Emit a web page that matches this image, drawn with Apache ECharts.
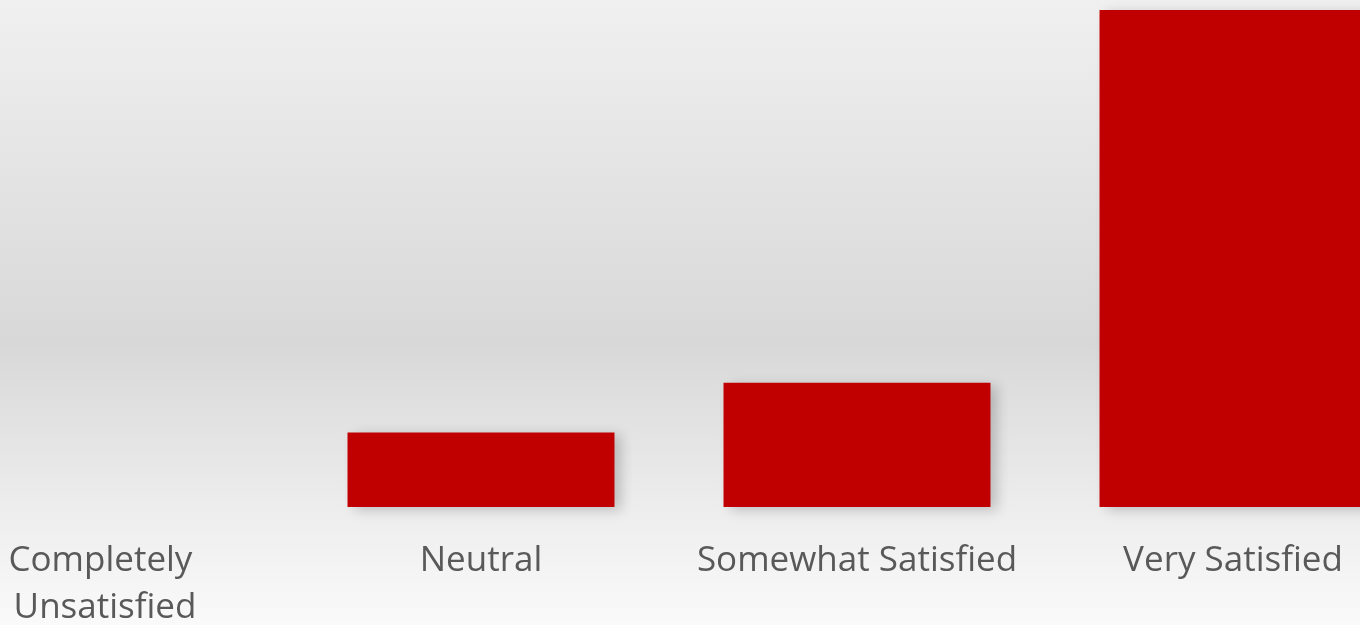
<!DOCTYPE html>
<html>
<head>
<meta charset="utf-8">
<script src="https://cdn.jsdelivr.net/npm/echarts@6/dist/echarts.min.js"></script>
<style>
html,body{margin:0;padding:0;}
#chart{width:1360px;height:625px;}
</style>
</head>
<body>
<div id="chart"></div>
<script>
var categories = ["Completely Unsatisfied", "Neutral", "Somewhat Satisfied", "Very Satisfied"];
var values = [0, 3, 5, 20];

var chart = echarts.init(document.getElementById('chart'));
chart.setOption({
  animation: false,
  backgroundColor: {
    type: 'linear', x: 0, y: 0, x2: 0, y2: 1,
    colorStops: [
      {offset: 0, color: '#f0f0f0'},
      {offset: 0.55, color: '#d8d8d8'},
      {offset: 0.8, color: '#ececec'},
      {offset: 1, color: '#fafafa'}
    ]
  },
  grid: {left: -83, right: -61, top: 10, bottom: 118, containLabel: false, outerBoundsMode: 'none'},
  xAxis: {
    type: 'category',
    data: categories,
    axisLine: {show: false},
    axisTick: {show: false},
    axisLabel: {
      color: '#595959',
      fontFamily: 'Open Sans',
      fontSize: 35,
      margin: 31,
      lineHeight: 47,
      width: 340,
      overflow: 'break',
      interval: 0,
      hideOverlap: false
    }
  },
  yAxis: {
    type: 'value',
    min: 0, max: 20,
    show: false,
    splitLine: {show: false}
  },
  series: [{
    type: 'bar',
    data: values,
    barWidth: '71%',
    itemStyle: {
      color: '#c00000',
      shadowColor: 'rgba(0,0,0,0.2)',
      shadowBlur: 12,
      shadowOffsetX: 7,
      shadowOffsetY: 3
    }
  }]
});
</script>
</body>
</html>
